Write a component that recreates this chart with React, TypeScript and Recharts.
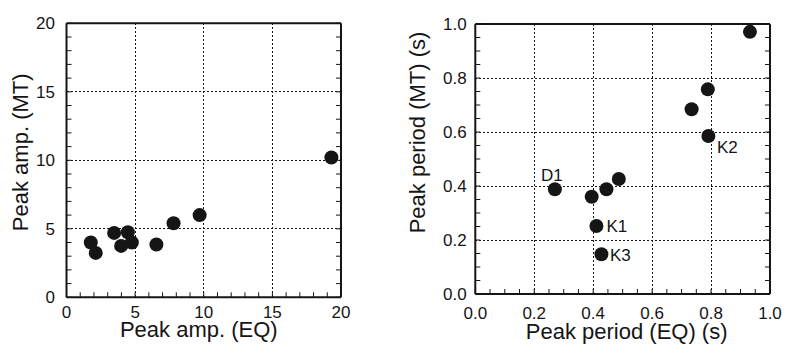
import { ScatterChart, Scatter, XAxis, YAxis, CartesianGrid } from 'recharts';

// left panel: peak amplitude, EQ vs MT
const ampEq = [1.77, 2.13, 3.47, 4.47, 3.98, 4.76, 6.55, 7.8, 9.7, 19.3];
const ampMt = [4.0, 3.24, 4.7, 4.75, 3.75, 4.0, 3.85, 5.4, 6.0, 10.2];

// right panel: peak period, EQ vs MT (s)
const periodEq = [0.27, 0.395, 0.445, 0.487, 0.411, 0.428, 0.734, 0.789, 0.791, 0.932];
const periodMt = [0.388, 0.36, 0.388, 0.426, 0.252, 0.147, 0.684, 0.758, 0.585, 0.971];
const periodNames = ['D1', '', '', '', 'K1', 'K3', '', '', 'K2', ''];

const ampMajorTicks = [0, 5, 10, 15, 20];
const ampAllTicks = [0, 1, 2, 3, 4, 5, 6, 7, 8, 9, 10, 11, 12, 13, 14, 15, 16, 17, 18, 19, 20];
const ampGrid = [5, 10, 15];

const periodMajorTicks = [0, 0.2, 0.4, 0.6, 0.8, 1.0];
const periodAllTicks = [
  0, 0.05, 0.1, 0.15, 0.2, 0.25, 0.3, 0.35, 0.4, 0.45, 0.5,
  0.55, 0.6, 0.65, 0.7, 0.75, 0.8, 0.85, 0.9, 0.95, 1.0,
];
const periodGrid = [0.2, 0.4, 0.6, 0.8];

const ampData = ampEq.map((x, i) => ({ x, y: ampMt[i] }));
const periodData = periodEq.map((x, i) => ({ x, y: periodMt[i], name: periodNames[i] }));

const FONT = '"Liberation Sans", Arial, Helvetica, sans-serif';
const INK = '#151515';
const TICK_LEN = 5;
const DOT_R = 7;

const LABEL_STYLE: Record<string, { dx: number; dy: number; anchor: 'start' | 'middle' }> = {
  D1: { dx: -3, dy: -8.5, anchor: 'middle' },
  K1: { dx: 10, dy: 6, anchor: 'start' },
  K2: { dx: 8.5, dy: 17, anchor: 'start' },
  K3: { dx: 8.5, dy: 7, anchor: 'start' },
};

type Side = 'bottom' | 'top' | 'left' | 'right';

// axes are 1px thick; the tick function draws inward ticks and the major labels
const makeTick =
  (side: Side, majors: number[], fmt?: (v: number) => string, labelOffset = 0) =>
  (props: any) => {
    const { x, y, payload } = props;
    const v = payload.value;
    const isMajor = majors.some((m) => Math.abs(m - v) < 1e-9);
    let coords;
    if (side === 'bottom') coords = { x1: x, x2: x, y1: y, y2: y - TICK_LEN };
    else if (side === 'top') coords = { x1: x, x2: x, y1: y, y2: y + TICK_LEN };
    else if (side === 'left') coords = { x1: x, x2: x + TICK_LEN, y1: y, y2: y };
    else coords = { x1: x, x2: x - TICK_LEN, y1: y, y2: y };
    return (
      <g>
        <line {...coords} stroke={INK} strokeWidth={1} />
        {fmt && isMajor && side === 'bottom' && (
          <text x={x} y={y + labelOffset} textAnchor="middle" fontSize={17} fontFamily={FONT} fill={INK}>
            {fmt(v)}
          </text>
        )}
        {fmt && isMajor && side === 'left' && (
          <text x={x - labelOffset} y={y + 6} textAnchor="end" fontSize={17} fontFamily={FONT} fill={INK}>
            {fmt(v)}
          </text>
        )}
      </g>
    );
  };

const xTitle = (text: string, dx: number, dy: number) => (props: any) => {
  const vb = props.viewBox;
  return (
    <text x={vb.x + vb.width / 2 + dx} y={vb.y + dy} textAnchor="middle" fontSize={22} fontFamily={FONT} fill={INK}>
      {text}
    </text>
  );
};

const yTitle = (text: string, dx: number, dy: number) => (props: any) => {
  const vb = props.viewBox;
  const cx = vb.x + dx;
  const cy = vb.y + vb.height / 2 + dy;
  return (
    <text
      x={cx}
      y={cy}
      transform={`rotate(-90, ${cx}, ${cy})`}
      textAnchor="middle"
      fontSize={22}
      fontFamily={FONT}
      fill={INK}
    >
      {text}
    </text>
  );
};

const dot = (props: any) => <circle cx={props.cx} cy={props.cy} r={DOT_R} fill={INK} />;

const labeledDot = (props: any) => {
  const name = props.payload?.name;
  const st = name ? LABEL_STYLE[name] : undefined;
  return (
    <g>
      <circle cx={props.cx} cy={props.cy} r={DOT_R} fill={INK} />
      {st && (
        <text
          x={props.cx + st.dx}
          y={props.cy + st.dy}
          textAnchor={st.anchor}
          fontSize={17}
          fontFamily={FONT}
          fill={INK}
        >
          {name}
        </text>
      )}
    </g>
  );
};

const axisLine = { stroke: INK, strokeWidth: 2 };
const fmtInt = (v: number) => String(v);
const fmtOne = (v: number) => v.toFixed(1);

const AmpChart = () => (
  <ScatterChart width={400} height={349} margin={{ top: 22.3, right: 58, bottom: 50.7, left: 65.5 }}>
    <CartesianGrid
      stroke={INK}
      strokeDasharray="2 2"
      shapeRendering="crispEdges"
      horizontalValues={ampGrid}
      verticalValues={ampGrid}
    />
    <XAxis
      type="number"
      dataKey="x"
      domain={[0, 20]}
      allowDataOverflow
      ticks={ampAllTicks}
      interval={0}
      height={1}
      tickSize={0}
      tickMargin={0}
      tickLine={false}
      axisLine={axisLine}
      tick={makeTick('bottom', ampMajorTicks, fmtInt, 20.5)}
      label={{ content: xTitle('Peak amp. (EQ)', -5, 40) }}
    />
    <XAxis
      xAxisId="top"
      orientation="top"
      type="number"
      domain={[0, 20]}
      allowDataOverflow
      ticks={ampAllTicks}
      interval={0}
      height={1}
      tickSize={0}
      tickMargin={0}
      tickLine={false}
      axisLine={axisLine}
      tick={makeTick('top', ampMajorTicks)}
    />
    <YAxis
      type="number"
      dataKey="y"
      domain={[0, 20]}
      allowDataOverflow
      ticks={ampAllTicks}
      interval={0}
      width={1}
      tickSize={0}
      tickMargin={0}
      tickLine={false}
      axisLine={axisLine}
      tick={makeTick('left', ampMajorTicks, fmtInt, 11.5)}
      label={{ content: yTitle('Peak amp. (MT)', -37.5, -8) }}
    />
    <YAxis
      yAxisId="right"
      orientation="right"
      type="number"
      domain={[0, 20]}
      allowDataOverflow
      ticks={ampAllTicks}
      interval={0}
      width={1}
      tickSize={0}
      tickMargin={0}
      tickLine={false}
      axisLine={axisLine}
      tick={makeTick('right', ampMajorTicks)}
    />
    <Scatter data={ampData} fill={INK} shape={dot} isAnimationActive={false} />
  </ScatterChart>
);

const PeriodChart = () => (
  <ScatterChart width={386} height={349} margin={{ top: 23, right: 15, bottom: 54, left: 74.3 }}>
    <CartesianGrid
      stroke={INK}
      strokeDasharray="2 2"
      shapeRendering="crispEdges"
      horizontalValues={periodGrid}
      verticalValues={periodGrid}
    />
    <XAxis
      type="number"
      dataKey="x"
      domain={[0, 1]}
      allowDataOverflow
      ticks={periodAllTicks}
      interval={0}
      height={1}
      tickSize={0}
      tickMargin={0}
      tickLine={false}
      axisLine={axisLine}
      tick={makeTick('bottom', periodMajorTicks, fmtOne, 24.5)}
      label={{ content: xTitle('Peak period (EQ) (s)', 4, 45) }}
    />
    <XAxis
      xAxisId="top"
      orientation="top"
      type="number"
      domain={[0, 1]}
      allowDataOverflow
      ticks={periodAllTicks}
      interval={0}
      height={1}
      tickSize={0}
      tickMargin={0}
      tickLine={false}
      axisLine={axisLine}
      tick={makeTick('top', periodMajorTicks)}
    />
    <YAxis
      type="number"
      dataKey="y"
      domain={[0, 1]}
      allowDataOverflow
      ticks={periodAllTicks}
      interval={0}
      width={1}
      tickSize={0}
      tickMargin={0}
      tickLine={false}
      axisLine={axisLine}
      tick={makeTick('left', periodMajorTicks, fmtOne, 8.6)}
      label={{ content: yTitle('Peak period (MT) (s)', -49.3, -26.5) }}
    />
    <YAxis
      yAxisId="right"
      orientation="right"
      type="number"
      domain={[0, 1]}
      allowDataOverflow
      ticks={periodAllTicks}
      interval={0}
      width={1}
      tickSize={0}
      tickMargin={0}
      tickLine={false}
      axisLine={axisLine}
      tick={makeTick('right', periodMajorTicks)}
    />
    <Scatter data={periodData} fill={INK} shape={labeledDot} isAnimationActive={false} />
  </ScatterChart>
);

export default function App() {
  return (
    <div style={{ position: 'absolute', left: 0, top: 0, width: 786, height: 349, background: '#fff' }}>
      <div style={{ position: 'absolute', left: 0, top: 0 }}>
        <AmpChart />
      </div>
      <div style={{ position: 'absolute', left: 400, top: 0 }}>
        <PeriodChart />
      </div>
    </div>
  );
}
